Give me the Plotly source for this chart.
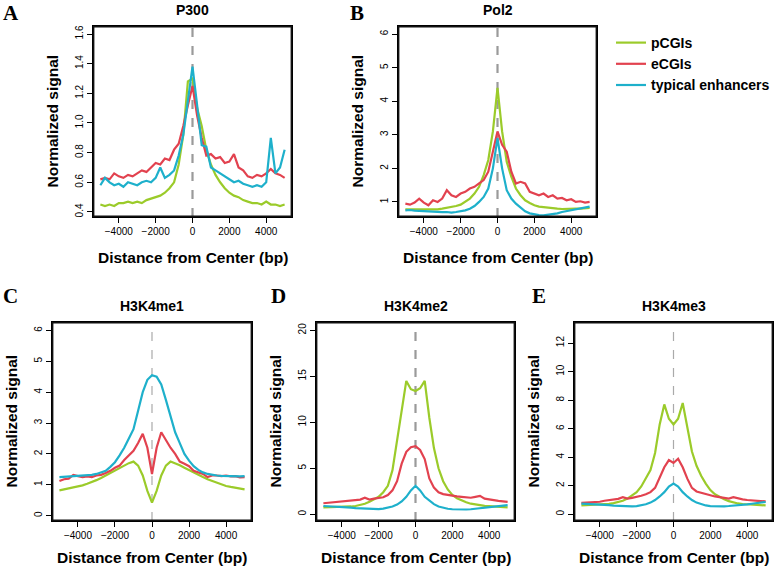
import plotly.graph_objects as go

# ---------------- data ----------------
X = [-5000, -4750, -4500, -4250, -4000, -3750, -3500, -3250, -3000, -2750,
     -2500, -2250, -2000, -1750, -1500, -1250, -1000, -750, -500, -250,
     0, 250, 500, 750, 1000, 1250, 1500, 1750, 2000, 2250,
     2500, 2750, 3000, 3250, 3500, 3750, 4000, 4250, 4500, 4750, 5000]

series_names = ["pCGIs", "eCGIs", "typical enhancers"]

p300_pcgi = [0.45, 0.44, 0.45, 0.44, 0.46, 0.46, 0.47, 0.46, 0.47, 0.46,
             0.48, 0.49, 0.50, 0.51, 0.53, 0.56, 0.60, 0.72, 0.92, 1.28,
             1.30, 1.10, 0.98, 0.82, 0.72, 0.65, 0.60, 0.56, 0.53, 0.51,
             0.50, 0.48, 0.47, 0.46, 0.46, 0.45, 0.47, 0.45, 0.45, 0.44, 0.45]
p300_ecgi = [0.62, 0.63, 0.62, 0.66, 0.64, 0.63, 0.65, 0.64, 0.66, 0.68,
             0.67, 0.70, 0.73, 0.72, 0.76, 0.75, 0.82, 0.86, 0.98, 1.12,
             1.25, 1.05, 0.90, 0.78, 0.79, 0.76, 0.77, 0.73, 0.74, 0.79,
             0.70, 0.68, 0.64, 0.63, 0.65, 0.64, 0.66, 0.69, 0.66, 0.65, 0.63]
p300_enh = [0.58, 0.63, 0.60, 0.58, 0.59, 0.57, 0.60, 0.59, 0.58, 0.60,
            0.61, 0.60, 0.63, 0.70, 0.63, 0.65, 0.68, 0.78, 0.92, 1.15,
            1.38, 1.12, 0.85, 0.84, 0.70, 0.68, 0.66, 0.64, 0.62, 0.60,
            0.61, 0.59, 0.58, 0.57, 0.58, 0.57, 0.60, 0.90, 0.66, 0.70, 0.82]

pol2_pcgi = [0.78, 0.78, 0.77, 0.78, 0.78, 0.77, 0.78, 0.78, 0.80, 0.82,
             0.85, 0.88, 0.92, 1.00, 1.10, 1.25, 1.45, 1.80, 2.25, 3.10,
             4.40, 3.10, 2.20, 1.75, 1.40, 1.20, 1.05, 0.97, 0.90, 0.86,
             0.84, 0.82, 0.80, 0.80, 0.79, 0.80, 0.80, 0.80, 0.80, 0.81, 0.82]
pol2_ecgi = [0.95, 0.92, 0.98, 1.10, 0.98, 0.90, 1.05, 1.00, 1.10, 1.35,
             1.20, 1.15, 1.25, 1.30, 1.40, 1.45, 1.55, 1.65, 1.90, 2.50,
             3.10, 2.70, 2.50, 1.90, 1.55, 1.60, 1.55, 1.30, 1.25, 1.20,
             1.25, 1.15, 1.20, 1.10, 1.12, 1.05, 1.08, 1.00, 1.02, 0.98, 1.00]
pol2_enh = [0.75, 0.76, 0.74, 0.73, 0.72, 0.73, 0.72, 0.71, 0.70, 0.70,
            0.68, 0.70, 0.72, 0.75, 0.80, 0.88, 1.00, 1.15, 1.40, 2.00,
            2.90, 2.00, 1.35, 1.10, 0.95, 0.82, 0.72, 0.66, 0.63, 0.61,
            0.60, 0.62, 0.63, 0.66, 0.70, 0.73, 0.75, 0.78, 0.80, 0.84, 0.86]

me1_pcgi = [0.82, 0.85, 0.88, 0.90, 0.93, 0.98, 1.03, 1.08, 1.15, 1.22,
            1.30, 1.38, 1.45, 1.55, 1.63, 1.70, 1.75, 1.62, 1.30, 0.80,
            0.42, 0.80, 1.30, 1.62, 1.75, 1.70, 1.63, 1.55, 1.47, 1.40,
            1.32, 1.25, 1.18, 1.12, 1.06, 1.00, 0.96, 0.93, 0.90, 0.87, 0.85]
me1_ecgi = [1.12, 1.18, 1.20, 1.32, 1.28, 1.25, 1.27, 1.25, 1.30, 1.32,
            1.38, 1.45, 1.55, 1.62, 1.80, 1.95, 2.10, 2.35, 2.65, 2.20,
            1.35, 2.20, 2.70, 2.45, 2.20, 2.00, 1.75, 1.68, 1.60, 1.45,
            1.40, 1.35, 1.25, 1.30, 1.30, 1.28, 1.30, 1.27, 1.28, 1.24, 1.25]
me1_enh = [1.25, 1.26, 1.27, 1.27, 1.28, 1.29, 1.30, 1.32, 1.35, 1.40,
           1.45, 1.58, 1.73, 1.95, 2.20, 2.50, 2.80, 3.40, 4.00, 4.40,
           4.55, 4.50, 4.25, 3.75, 3.20, 2.70, 2.35, 2.00, 1.78, 1.60,
           1.48, 1.40, 1.35, 1.32, 1.30, 1.29, 1.28, 1.28, 1.28, 1.27, 1.28]

me2_pcgi = [0.75, 0.76, 0.77, 0.78, 0.80, 0.82, 0.85, 0.90, 1.00, 1.15,
            1.35, 1.60, 1.90, 2.40, 3.10, 4.80, 8.00, 11.5, 14.5, 13.6,
            13.4, 13.7, 14.5, 10.5, 7.20, 5.00, 3.60, 2.70, 2.10, 1.75,
            1.50, 1.30, 1.15, 1.05, 0.98, 0.92, 0.88, 0.84, 0.80, 0.78, 0.75]
me2_ecgi = [1.20, 1.25, 1.30, 1.35, 1.40, 1.45, 1.50, 1.55, 1.60, 1.80,
            1.60, 1.70, 1.80, 1.85, 2.10, 2.60, 3.60, 5.50, 6.80, 7.30,
            7.40, 7.00, 6.00, 3.90, 2.90, 2.40, 2.20, 2.10, 2.05, 1.95,
            1.90, 1.85, 1.80, 1.90, 2.00, 1.70, 1.60, 1.50, 1.45, 1.40, 1.35]
me2_enh = [0.90, 0.88, 0.87, 0.85, 0.82, 0.78, 0.73, 0.68, 0.64, 0.60,
           0.57, 0.55, 0.56, 0.62, 0.72, 0.85, 1.05, 1.40, 1.90, 2.60,
           3.10, 2.60, 1.90, 1.45, 1.10, 0.85, 0.70, 0.60, 0.55, 0.52,
           0.50, 0.52, 0.55, 0.60, 0.65, 0.70, 0.75, 0.80, 0.85, 0.92, 1.00]

me3_pcgi = [0.62, 0.63, 0.64, 0.66, 0.68, 0.70, 0.73, 0.78, 0.85, 0.95,
            1.10, 1.30, 1.55, 1.95, 2.50, 3.10, 4.30, 6.30, 7.70, 6.70,
            6.30, 6.70, 7.80, 6.10, 4.40, 3.40, 2.70, 2.15, 1.70, 1.40,
            1.20, 1.05, 0.92, 0.83, 0.76, 0.72, 0.69, 0.67, 0.65, 0.63, 0.62]
me3_ecgi = [0.80, 0.82, 0.85, 0.85, 0.88, 0.95, 1.00, 1.02, 1.08, 1.20,
            1.10, 1.15, 1.20, 1.30, 1.40, 1.55, 1.85, 2.60, 3.30, 3.80,
            3.60, 3.90, 3.30, 2.50, 1.85, 1.60, 1.50, 1.40, 1.30, 1.25,
            1.20, 1.15, 1.10, 1.20, 1.10, 1.05, 1.00, 0.98, 0.95, 0.92, 0.90]
me3_enh = [0.75, 0.74, 0.73, 0.72, 0.70, 0.67, 0.64, 0.61, 0.59, 0.57,
           0.56, 0.55, 0.57, 0.62, 0.70, 0.82, 1.00, 1.25, 1.55, 1.95,
           2.15, 1.95, 1.55, 1.25, 1.00, 0.82, 0.70, 0.62, 0.57, 0.55,
           0.55, 0.56, 0.58, 0.60, 0.63, 0.66, 0.70, 0.74, 0.78, 0.82, 0.86]

x_ticks = [-4000, -2000, 0, 2000, 4000]

# ---------------- layout config ----------------
W, H = 776, 569
COLORS = ["#9BCB2A", "#E2424F", "#1EB0CB"]
XR = [-5400, 5400]

panels = [
    dict(letter="A", title="P300", data=[p300_pcgi, p300_ecgi, p300_enh],
         box=(93, 26, 292, 217), yr=[0.366, 1.654],
         yt=[0.4, 0.6, 0.8, 1.0, 1.2, 1.4, 1.6], ytt=["0.4", "0.6", "0.8", "1.0", "1.2", "1.4", "1.6"],
         dash_w=2.2, dash_c="#9A9A9A"),
    dict(letter="B", title="Pol2", data=[pol2_pcgi, pol2_ecgi, pol2_enh],
         box=(398, 26, 597, 217), yr=[0.552, 6.239],
         yt=[1, 2, 3, 4, 5, 6], ytt=None, dash_w=2.2, dash_c="#9A9A9A"),
    dict(letter="C", title="H3K4me1", data=[me1_pcgi, me1_ecgi, me1_enh],
         box=(52, 322, 252, 521), yr=[-0.174, 6.272],
         yt=[0, 1, 2, 3, 4, 5, 6], ytt=None, dash_w=1.2, dash_c="#AAAAAA"),
    dict(letter="D", title="H3K4me2", data=[me2_pcgi, me2_ecgi, me2_enh],
         box=(316, 322, 515, 521), yr=[-0.73, 20.91],
         yt=[0, 5, 10, 15, 20], ytt=None, dash_w=2.2, dash_c="#9A9A9A"),
    dict(letter="E", title="H3K4me3", data=[me3_pcgi, me3_ecgi, me3_enh],
         box=(574, 322, 773, 521), yr=[-0.47, 13.48],
         yt=[0, 2, 4, 6, 8, 10, 12], ytt=None, dash_w=1.2, dash_c="#AAAAAA"),
]

fig = go.Figure()
layout = dict(width=W, height=H, margin=dict(l=0, r=0, t=0, b=0),
              paper_bgcolor="white", plot_bgcolor="white",
              font=dict(family="Liberation Sans, Arial, sans-serif", color="black"))
annotations = []
shapes = []

TICKFONT = dict(family="Liberation Sans, Arial, sans-serif", size=10, color="black")
TITLEFONT = dict(family="Liberation Sans, Arial, sans-serif", size=15.5, color="black")

for i, p in enumerate(panels):
    k = "" if i == 0 else str(i + 1)
    xa, ya = "x" + k, "y" + k
    l, t, r, b = p["box"]
    for j, vals in enumerate(p["data"]):
        fig.add_trace(go.Scatter(
            x=X, y=vals, mode="lines", name=series_names[j],
            line=dict(color=COLORS[j], width=2.2),
            xaxis=xa, yaxis=ya, showlegend=(i == 0)))
    # frame around the plotting area, traced along the axis range limits
    y0, y1 = p["yr"]
    fig.add_trace(go.Scatter(
        x=[XR[0], XR[1], XR[1], XR[0], XR[0]], y=[y0, y0, y1, y1, y0],
        mode="lines", line=dict(color="#111111", width=2.8),
        xaxis=xa, yaxis=ya, showlegend=False, hoverinfo="skip"))
    axis_common = dict(showline=True, mirror=True, linecolor="black", linewidth=1,
                       ticks="outside", ticklen=5, tickwidth=1,
                       tickcolor="black", showgrid=False, zeroline=False,
                       tickfont=TICKFONT)
    layout["xaxis" + k] = dict(axis_common, domain=[l / W, r / W], anchor=ya,
                               range=XR, tickvals=x_ticks)
    layout["yaxis" + k] = dict(axis_common, domain=[1 - b / H, 1 - t / H], anchor=xa,
                               range=p["yr"], tickvals=p["yt"],
                               ticktext=p["ytt"] if p["ytt"] else [str(v) for v in p["yt"]],
                               tickangle=-90)
    shapes.append(dict(type="line", xref=xa, yref=ya + " domain", x0=0, x1=0, y0=0, y1=1,
                       line=dict(color=p["dash_c"], width=p["dash_w"], dash="dash"),
                       layer="below"))
    cx = (l + r) / 2
    off = 40 if i < 2 else 36
    annotations.append(dict(text="<b>%s</b>" % p["title"], x=cx / W, y=1 - (t - 16) / H,
                            xref="paper", yref="paper", showarrow=False,
                            xanchor="center", yanchor="middle",
                            font=dict(family="Liberation Sans, Arial, sans-serif", size=14)))
    annotations.append(dict(text="<b>Distance from Center (bp)</b>", x=cx / W, y=1 - (b + off) / H,
                            xref="paper", yref="paper", showarrow=False,
                            xanchor="center", yanchor="middle", font=TITLEFONT))
    annotations.append(dict(text="<b>Normalized signal</b>", x=(l - 41) / W, y=1 - ((t + b) / 2) / H,
                            xref="paper", yref="paper", showarrow=False, textangle=-90,
                            xanchor="center", yanchor="middle", font=TITLEFONT))

letters = {"A": (11, 13), "B": (357, 13), "C": (10, 296), "D": (278, 296), "E": (539, 296)}
for p in panels:
    lx, ly = letters[p["letter"]]
    annotations.append(dict(text="<b>%s</b>" % p["letter"], x=lx / W, y=1 - ly / H,
                            xref="paper", yref="paper", showarrow=False,
                            xanchor="center", yanchor="middle",
                            font=dict(family="Liberation Serif, Times New Roman, serif", size=21)))

layout["annotations"] = annotations
layout["shapes"] = shapes
layout["showlegend"] = True
layout["legend"] = dict(x=611 / W, y=1 - 27 / H, xanchor="left", yanchor="top",
                        bgcolor="rgba(0,0,0,0)", itemwidth=30, tracegroupgap=0,
                        font=dict(family="Liberation Sans, Arial, sans-serif", size=14, weight="bold"))
fig.update_layout(**layout)
fig.write_html("out.html", config={"displayModeBar": False},
               post_script="document.body.style.margin='0px';document.body.style.padding='0px';")
